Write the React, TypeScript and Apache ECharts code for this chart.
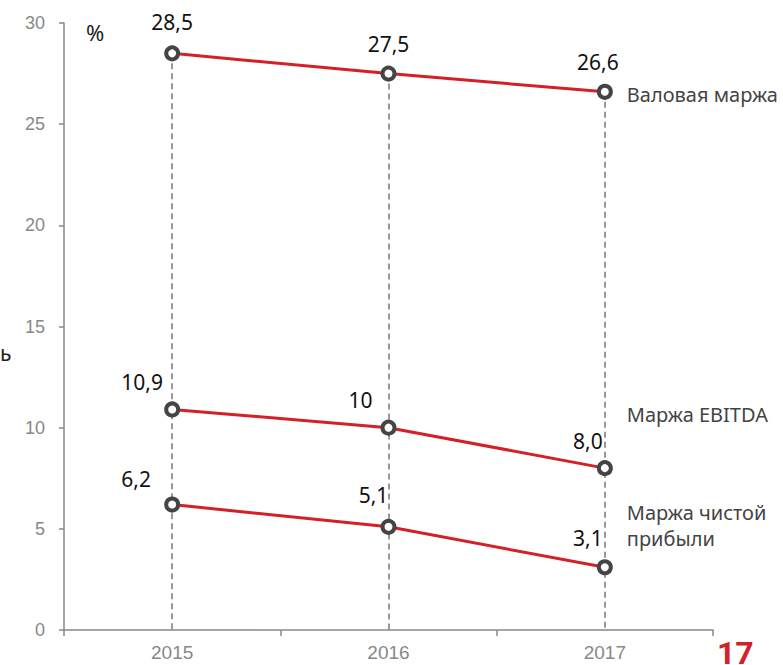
import React, { useEffect, useRef } from "react";
import * as echarts from "echarts";

const years = ["2015", "2016", "2017"];
const grossMargin = [28.5, 27.5, 26.6];
const ebitdaMargin = [10.9, 10, 8.0];
const netMargin = [6.2, 5.1, 3.1];
const grossLabels = ["28,5", "27,5", "26,6"];
const ebitdaLabels = ["10,9", "10", "8,0"];
const netLabels = ["6,2", "5,1", "3,1"];
const seriesNames = ["Валовая маржа", "Маржа EBITDA", "Маржа чистой\nприбыли"];
const yTicks = { min: 0, max: 30, interval: 5 };

const RED = "#d42027";
const MARKER = "#444444";

export default function App() {
  const ref = useRef<HTMLDivElement>(null);
  useEffect(() => {
    const chart = echarts.init(ref.current!, undefined, { renderer: "svg" });
    const labelFont = { fontFamily: "Noto Sans", fontSize: 21, color: "#111" };
    const mkSeries = (
      name: string,
      values: number[],
      texts: string[],
      offsets: number[][],
      endOffset: number[],
      withMarkLine: boolean
    ) => ({
      type: "line",
      name,
      data: values.map((v, i) => ({
        value: v,
        label: {
          show: true,
          formatter: texts[i],
          position: "top",
          offset: offsets[i],
          ...labelFont,
        },
      })),
      symbol: "circle",
      symbolSize: 12,
      itemStyle: { color: "#ffffff", borderColor: MARKER, borderWidth: 4 },
      lineStyle: { color: RED, width: 3 },
      z: 5,
      endLabel: {
        show: true,
        formatter: name,
        fontFamily: "Noto Sans",
        fontSize: 20,
        color: "#444",
        lineHeight: 26,
        align: "left",
        offset: endOffset,
      },
      markLine: withMarkLine
        ? {
            silent: true,
            symbol: "none",
            label: { show: false },
            lineStyle: { color: "#777", type: [6, 4], width: 1.5 },
            z: 1,
            data: years.map((y, i) => [
              { coord: [i, values[i]] },
              { coord: [i, 0] },
            ]),
          }
        : undefined,
    });

    chart.setOption({
      animation: false,
      grid: { left: 64, right: 70, top: 23, bottom: 35, containLabel: false },
      xAxis: {
        type: "category",
        data: years,
        boundaryGap: true,
        axisLine: { lineStyle: { color: "#888", width: 1.5 } },
        axisTick: { show: true, length: 6, inside: false, lineStyle: { color: "#888", width: 1.5 } },
        axisLabel: { color: "#888", fontFamily: "Liberation Sans", fontSize: 19, margin: 13 },
        splitLine: { show: false },
      },
      yAxis: {
        type: "value",
        min: yTicks.min,
        max: yTicks.max,
        interval: yTicks.interval,
        axisLine: { show: true, lineStyle: { color: "#888", width: 1.5 } },
        axisTick: { show: true, length: 5, lineStyle: { color: "#888", width: 1.5 } },
        axisLabel: { color: "#888", fontFamily: "Liberation Sans", fontSize: 18, margin: 19 },
        splitLine: { show: false },
      },
      graphic: [
        {
          type: "text",
          left: 86,
          top: 21,
          style: { text: "%", fontFamily: "Noto Sans", fontSize: 22, fill: "#222" },
        },
        {
          type: "text",
          left: 0,
          top: 342,
          style: { text: "ь", fontFamily: "Noto Sans", fontSize: 21, fill: "#222" },
        },
        {
          type: "text",
          left: 717,
          top: 637,
          style: { text: "17", fontFamily: "Roboto", fontSize: 32, fontWeight: "bold", fill: RED },
        },
      ],
      series: [
        mkSeries(seriesNames[0], grossMargin, grossLabels, [[0, -8], [0, -6], [-7, -6]], [14, 3], true),
        mkSeries(seriesNames[1], ebitdaMargin, ebitdaLabels, [[-30, -4], [-28, -4], [-17, -4]], [14, -54], false),
        mkSeries(seriesNames[2], netMargin, netLabels, [[-36, -2], [-15, -8], [-17, -6]], [14, -42], false),
      ],
    });
    return () => chart.dispose();
  }, []);
  return (
    <div
      ref={ref}
      style={{ position: "fixed", left: 0, top: 0, width: 783, height: 665, background: "#fff" }}
    />
  );
}
